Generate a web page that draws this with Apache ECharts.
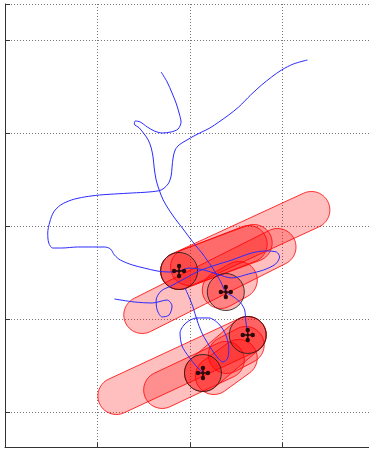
<!DOCTYPE html>
<html>
<head>
<meta charset="utf-8">
<script src="https://cdn.jsdelivr.net/npm/echarts@6/dist/echarts.min.js"></script>
<style>
  html, body { margin: 0; padding: 0; background: #ffffff; }
  #chart { width: 369px; height: 449px; }
</style>
</head>
<body>
<div id="chart"></div>
<script>
// Trajectory pieces, [x, y] in plot units
const pathA = [
  [3.269,4.785],[3.118,4.742],[2.989,4.677],[2.882,4.602],[2.774,4.516],[2.656,4.409],
  [2.527,4.280],[2.419,4.194],[2.312,4.118],[2.215,4.054],[2.129,4.011],[2.043,3.968],
  [1.968,3.925],[1.882,3.871],[1.839,3.817],[1.817,3.731],[1.806,3.634],[1.796,3.538],
  [1.763,3.452],[1.688,3.387],[1.559,3.366],[1.376,3.355],[1.183,3.344],[1.022,3.333],
  [0.860,3.312],[0.720,3.280],[0.602,3.226],[0.527,3.151],[0.484,3.043],[0.462,2.925],
  [0.473,2.817],[0.516,2.763],[0.613,2.763],[0.785,2.774],[0.946,2.774],[1.075,2.774],
  [1.140,2.753],[1.183,2.688],[1.247,2.634],[1.376,2.581],[1.505,2.548],[1.645,2.516],
  [1.774,2.505],[1.882,2.516],[1.989,2.548],[2.151,2.527],[2.290,2.484],[2.452,2.441],
  [2.634,2.484],[2.796,2.527],[2.925,2.591],[2.968,2.667],[2.935,2.720],[2.817,2.731],
  [2.667,2.710],[2.452,2.634],[2.280,2.581],[2.097,2.516],[1.935,2.430],[1.796,2.355],
  [1.688,2.301],[1.634,2.204],[1.645,2.097],[1.699,2.022],[1.774,2.043],[1.806,2.140],
  [1.753,2.204],[1.591,2.172],[1.398,2.183],[1.183,2.215]
];
const pathB = [
  [1.688,4.656],[1.753,4.548],[1.806,4.430],[1.849,4.323],[1.882,4.215],[1.903,4.118],
  [1.871,4.043],[1.796,4.011],[1.699,4.000],[1.613,4.022],[1.538,4.065],[1.462,4.118],
  [1.409,4.129],[1.398,4.097],[1.452,4.054],[1.505,3.989],[1.548,3.925],[1.581,3.839],
  [1.602,3.731],[1.613,3.624],[1.634,3.495],[1.667,3.387],[1.710,3.280],[1.774,3.172],
  [1.849,3.065],[1.925,2.968],[1.989,2.882],[2.065,2.785],[2.129,2.710],[2.183,2.634],
  [2.237,2.559],[2.290,2.473],[2.333,2.398],[2.387,2.290],[2.473,2.237],[2.548,2.172],
  [2.591,2.097],[2.602,1.989],[2.613,1.903],[2.624,1.828]
];
const pathC = [
  [1.946,2.333],[1.989,2.237],[2.032,2.129],[2.075,1.989],[2.129,1.849],[2.183,1.753],
  [2.237,1.667],[2.301,1.581],[2.355,1.538],[2.409,1.581],[2.419,1.688],[2.387,1.828],
  [2.312,1.946],[2.204,2.011],[2.075,2.011],[1.957,1.957],[1.892,1.849],[1.914,1.710],
  [1.989,1.591],[2.065,1.495],[2.140,1.419]
];

// Swept bodies: start and end centres of each capsule
const capsuleStart = [
  [1.882,2.516],[1.882,2.516],[1.484,2.043],[1.989,2.559],[2.333,2.312],
  [1.204,1.172],[1.699,1.237],[2.140,1.419],[2.258,1.387],[2.398,1.613]
];
const capsuleEnd = [
  [3.312,3.172],[2.634,2.806],[2.946,2.774],[2.688,2.817],[2.527,2.419],
  [2.624,1.828],[2.387,1.559],[2.624,1.828],[2.527,1.581],[2.602,1.720]
];
const capsuleRadius = 0.2;

// Current body positions
const bodyCenters = [[1.882,2.516],[2.387,2.290],[2.624,1.828],[2.140,1.419]];

const capsuleData = capsuleStart.map((s, i) => [s[0], s[1], capsuleEnd[i][0], capsuleEnd[i][1]]);

function capsulePoints(p1, p2, r) {
  const a = Math.atan2(p2[1] - p1[1], p2[0] - p1[0]);
  const pts = [];
  const n = 28;
  for (let i = 0; i <= n; i++) {
    const t = a - Math.PI / 2 + Math.PI * i / n;
    pts.push([p2[0] + r * Math.cos(t), p2[1] + r * Math.sin(t)]);
  }
  for (let i = 0; i <= n; i++) {
    const t = a + Math.PI / 2 + Math.PI * i / n;
    pts.push([p1[0] + r * Math.cos(t), p1[1] + r * Math.sin(t)]);
  }
  return pts;
}

function trackSeries(data) {
  return {
    type: 'line', data: data, showSymbol: false, symbol: 'none', smooth: 0.3,
    lineStyle: { color: '#2a2aff', width: 1 }, z: 5, silent: true
  };
}

const chart = echarts.init(document.getElementById('chart'), null, { renderer: 'canvas' });
chart.setOption({
  animation: false,
  backgroundColor: '#ffffff',
  grid: { left: 5, right: -2, top: 4, bottom: 1.5, containLabel: false },
  xAxis: {
    type: 'value', min: 0, max: 3.935, interval: 1,
    axisLine: { show: true, onZero: false, lineStyle: { color: '#333333', width: 1 } },
    axisTick: { show: true, inside: true, length: 5, lineStyle: { color: '#333333' } },
    axisLabel: { show: false },
    splitLine: { show: true, lineStyle: { color: '#777777', width: 1, type: [1, 2] } }
  },
  yAxis: {
    type: 'value', min: 0.618, max: 5.387, splitNumber: 5,
    axisLine: { show: true, onZero: false, lineStyle: { color: '#333333', width: 1 } },
    axisTick: { show: true, inside: true, length: 5, lineStyle: { color: '#333333' } },
    axisLabel: { show: false },
    splitLine: { show: true, lineStyle: { color: '#777777', width: 1, type: [1, 2] } }
  },
  series: [
    {
      type: 'custom', data: capsuleData, z: 2, silent: true,
      encode: { x: [0, 2], y: [1, 3] },
      renderItem: function (params, api) {
        const p1 = api.coord([api.value(0), api.value(1)]);
        const p2 = api.coord([api.value(2), api.value(3)]);
        const r = api.size([capsuleRadius, 0])[0];
        return {
          type: 'polygon',
          shape: { points: capsulePoints(p1, p2, r) },
          style: { fill: 'rgba(255,0,0,0.25)', stroke: 'rgba(255,0,0,0.8)', lineWidth: 1 }
        };
      }
    },
    {
      type: 'custom', data: bodyCenters, z: 3, silent: true,
      encode: { x: 0, y: 1 },
      renderItem: function (params, api) {
        const c = api.coord([api.value(0), api.value(1)]);
        const r = api.size([capsuleRadius, 0])[0];
        return {
          type: 'circle',
          shape: { cx: c[0], cy: c[1], r: r },
          style: { fill: 'rgba(255,0,0,0.3)', stroke: 'rgba(30,30,30,0.85)', lineWidth: 1 }
        };
      }
    },
    trackSeries(pathA),
    trackSeries(pathB),
    trackSeries(pathC),
    {
      type: 'custom', data: bodyCenters, z: 6, silent: true,
      encode: { x: 0, y: 1 },
      renderItem: function (params, api) {
        const c = api.coord([api.value(0), api.value(1)]);
        const d = 5, col = '#2b0a0a';
        const kids = [
          { type: 'line', shape: { x1: c[0] - d, y1: c[1], x2: c[0] + d, y2: c[1] }, style: { stroke: col, lineWidth: 1.5 } },
          { type: 'line', shape: { x1: c[0], y1: c[1] - d, x2: c[0], y2: c[1] + d }, style: { stroke: col, lineWidth: 1.5 } },
          { type: 'circle', shape: { cx: c[0], cy: c[1], r: 1.5 }, style: { fill: col } }
        ];
        [[d, 0], [-d, 0], [0, d], [0, -d]].forEach(function (o) {
          kids.push({ type: 'circle', shape: { cx: c[0] + o[0], cy: c[1] + o[1], r: 2.2 }, style: { fill: col } });
        });
        return { type: 'group', children: kids };
      }
    }
  ]
});
</script>
</body>
</html>
